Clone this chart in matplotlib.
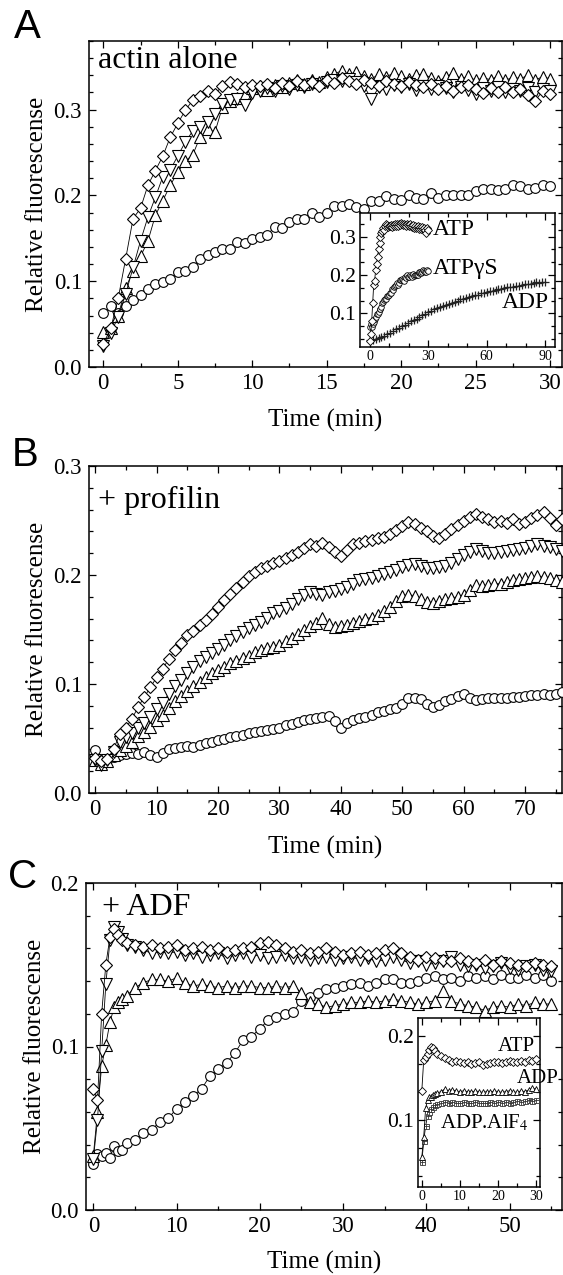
#!/usr/bin/env python3
# -*- coding: utf-8 -*-
"""Three-panel actin polymerization kinetics figure (A: actin alone, B: + profilin, C: + ADF)."""

import numpy as np
import matplotlib
matplotlib.use("Agg")
import matplotlib.pyplot as plt
from matplotlib.ticker import MultipleLocator, FormatStrFormatter, AutoMinorLocator

plt.rcParams['font.family'] = ['Liberation Serif', 'DejaVu Serif']
plt.rcParams['mathtext.fontset'] = 'stix'

# ---------------- Panel A : actin alone (0.5 min sampling) ----------------
time_a = np.arange(0, 30.5, 0.5)
a_diamond = [0.027, 0.045, 0.080, 0.126, 0.173, 0.185, 0.212, 0.229, 0.246, 0.268,
             0.284, 0.299, 0.311, 0.316, 0.322, 0.318, 0.328, 0.332, 0.330, 0.326,
             0.329, 0.327, 0.330, 0.325, 0.331, 0.328, 0.333, 0.329, 0.332, 0.328,
             0.334, 0.331, 0.337, 0.333, 0.330, 0.334, 0.331, 0.327, 0.333, 0.330,
             0.328, 0.332, 0.329, 0.326, 0.330, 0.324, 0.328, 0.322, 0.326, 0.329,
             0.324, 0.319, 0.325, 0.321, 0.326, 0.320, 0.324, 0.317, 0.310, 0.322,
             0.318]
a_tri_down = [0.025, 0.040, 0.058, 0.085, 0.116, 0.147, 0.175, 0.198, 0.222, 0.230,
              0.246, 0.262, 0.275, 0.280, 0.286, 0.295, 0.306, 0.311, 0.312, 0.305,
              0.319, 0.322, 0.325, 0.322, 0.327, 0.324, 0.329, 0.326, 0.330, 0.328,
              0.332, 0.335, 0.333, 0.336, 0.332, 0.328, 0.312, 0.326, 0.324, 0.329,
              0.326, 0.330, 0.323, 0.327, 0.324, 0.328, 0.325, 0.321, 0.326, 0.323,
              0.318, 0.325, 0.322, 0.326, 0.321, 0.324, 0.322, 0.325, 0.320, 0.324,
              0.322]
a_tri_up = [0.041, 0.045, 0.060, 0.092, 0.112, 0.129, 0.147, 0.177, 0.194, 0.212,
            0.227, 0.240, 0.247, 0.268, 0.277, 0.274, 0.303, 0.310, 0.314, 0.318,
            0.325, 0.327, 0.323, 0.329, 0.326, 0.331, 0.334, 0.330, 0.335, 0.332,
            0.338, 0.342, 0.345, 0.341, 0.344, 0.339, 0.336, 0.341, 0.338, 0.343,
            0.339, 0.336, 0.340, 0.342, 0.337, 0.333, 0.338, 0.343, 0.336, 0.339,
            0.334, 0.337, 0.335, 0.339, 0.334, 0.338, 0.336, 0.340, 0.335, 0.338,
            0.336]
a_circle = [0.063, 0.071, 0.063, 0.071, 0.078, 0.084, 0.091, 0.097, 0.099, 0.103,
            0.111, 0.112, 0.117, 0.126, 0.130, 0.134, 0.137, 0.138, 0.146, 0.145,
            0.149, 0.152, 0.154, 0.163, 0.162, 0.169, 0.172, 0.173, 0.179, 0.175,
            0.179, 0.188, 0.188, 0.190, 0.186, 0.184, 0.194, 0.193, 0.199, 0.196,
            0.195, 0.201, 0.197, 0.196, 0.203, 0.197, 0.201, 0.201, 0.201, 0.200,
            0.205, 0.207, 0.207, 0.206, 0.208, 0.212, 0.211, 0.207, 0.209, 0.212,
            0.211]

# inset A: ADP trace, 1.5 min sampling over 90 min
time_a_adp = np.arange(0, 91.5, 1.5)
a_inset_adp = [0.030, 0.029, 0.032, 0.035, 0.037, 0.042, 0.046, 0.049, 0.054, 0.058,
               0.062, 0.067, 0.070, 0.074, 0.079, 0.083, 0.086, 0.091, 0.096, 0.099,
               0.104, 0.106, 0.110, 0.114, 0.116, 0.120, 0.123, 0.125, 0.128, 0.130,
               0.133, 0.137, 0.138, 0.140, 0.143, 0.146, 0.147, 0.149, 0.152, 0.153,
               0.155, 0.158, 0.159, 0.160, 0.163, 0.164, 0.165, 0.168, 0.168, 0.170,
               0.172, 0.172, 0.174, 0.176, 0.176, 0.177, 0.179, 0.181, 0.180, 0.182,
               0.183]

# ---------------- Panel B : + profilin (1 min sampling) ----------------
time_b = np.arange(0, 77, 1)
b_diamond = [0.032, 0.029, 0.031, 0.040, 0.054, 0.060, 0.068, 0.079, 0.088, 0.097,
             0.106, 0.114, 0.123, 0.131, 0.138, 0.145, 0.149, 0.154, 0.159, 0.164,
             0.171, 0.177, 0.183, 0.188, 0.194, 0.199, 0.203, 0.206, 0.208, 0.211,
             0.213, 0.216, 0.218, 0.221, 0.225, 0.228, 0.227, 0.229, 0.226, 0.221,
             0.217, 0.223, 0.228, 0.229, 0.231, 0.232, 0.234, 0.235, 0.238, 0.241,
             0.245, 0.249, 0.247, 0.243, 0.240, 0.236, 0.234, 0.238, 0.242, 0.246,
             0.250, 0.253, 0.256, 0.253, 0.251, 0.249, 0.250, 0.248, 0.251, 0.247,
             0.249, 0.252, 0.255, 0.258, 0.252, 0.246, 0.251]
b_tri_down = [0.030, 0.026, 0.030, 0.038, 0.047, 0.051, 0.055, 0.060, 0.064, 0.070,
              0.077, 0.083, 0.091, 0.098, 0.104, 0.110, 0.116, 0.121, 0.125, 0.128,
              0.132, 0.136, 0.140, 0.144, 0.148, 0.151, 0.154, 0.157, 0.161, 0.165,
              0.167, 0.170, 0.173, 0.178, 0.182, 0.184, 0.183, 0.182, 0.184, 0.185,
              0.187, 0.189, 0.192, 0.195, 0.196, 0.197, 0.199, 0.201, 0.203, 0.205,
              0.207, 0.209, 0.210, 0.208, 0.206, 0.206, 0.207, 0.208, 0.211, 0.215,
              0.218, 0.221, 0.224, 0.222, 0.220, 0.220, 0.221, 0.222, 0.223, 0.224,
              0.225, 0.227, 0.228, 0.227, 0.226, 0.224, 0.222]
b_tri_up = [0.030, 0.027, 0.029, 0.035, 0.039, 0.043, 0.047, 0.052, 0.056, 0.061,
            0.067, 0.072, 0.078, 0.084, 0.089, 0.094, 0.098, 0.102, 0.106, 0.110,
            0.113, 0.116, 0.119, 0.121, 0.124, 0.126, 0.129, 0.131, 0.133, 0.134,
            0.136, 0.139, 0.142, 0.146, 0.150, 0.153, 0.156, 0.161, 0.155, 0.152,
            0.153, 0.154, 0.156, 0.158, 0.160, 0.161, 0.163, 0.167, 0.171, 0.176,
            0.181, 0.182, 0.181, 0.178, 0.175, 0.174, 0.176, 0.178, 0.179, 0.180,
            0.182, 0.186, 0.191, 0.190, 0.191, 0.192, 0.192, 0.194, 0.195, 0.196,
            0.197, 0.198, 0.199, 0.198, 0.197, 0.195, 0.194]
b_circle = [0.039, 0.030, 0.030, 0.033, 0.035, 0.036, 0.037, 0.036, 0.038, 0.035,
            0.033, 0.037, 0.040, 0.041, 0.042, 0.043, 0.042, 0.044, 0.046, 0.047,
            0.049, 0.050, 0.051, 0.052, 0.053, 0.055, 0.056, 0.057, 0.058, 0.059,
            0.060, 0.062, 0.063, 0.065, 0.067, 0.068, 0.069, 0.070, 0.071, 0.066,
            0.060, 0.064, 0.067, 0.069, 0.070, 0.072, 0.074, 0.075, 0.077, 0.078,
            0.082, 0.087, 0.087, 0.086, 0.082, 0.079, 0.081, 0.084, 0.086, 0.089,
            0.091, 0.087, 0.085, 0.086, 0.087, 0.087, 0.087, 0.087, 0.088, 0.088,
            0.089, 0.090, 0.090, 0.091, 0.090, 0.091, 0.093]

# ---------------- Panel C : + ADF ----------------
time_c = [0, 0.5, 1, 1.5, 2, 2.5, 3, 3.5, 4] + list(range(5, 56))
c_diamond = [0.074, 0.067, 0.120, 0.150, 0.167, 0.172, 0.168, 0.165, 0.163,
             0.162, 0.161, 0.162, 0.160, 0.161, 0.162, 0.159, 0.160, 0.161, 0.159,
             0.160, 0.158, 0.159, 0.160, 0.161, 0.163, 0.164, 0.162, 0.160, 0.158,
             0.159, 0.157, 0.158, 0.160, 0.158, 0.156, 0.157, 0.158, 0.156, 0.157,
             0.159, 0.160, 0.157, 0.155, 0.153, 0.155, 0.154, 0.153, 0.152, 0.154,
             0.152, 0.151, 0.153, 0.150, 0.152, 0.151, 0.150, 0.149, 0.151, 0.150,
             0.149]
c_tri_down = [0.031, 0.055, 0.097, 0.138, 0.165, 0.173, 0.170, 0.166, 0.162,
              0.161, 0.159, 0.157, 0.158, 0.157, 0.158, 0.156, 0.157, 0.155, 0.156,
              0.157, 0.154, 0.156, 0.157, 0.155, 0.156, 0.154, 0.155, 0.156, 0.154,
              0.155, 0.153, 0.154, 0.155, 0.153, 0.154, 0.155, 0.153, 0.154, 0.152,
              0.153, 0.155, 0.153, 0.151, 0.152, 0.150, 0.151, 0.152, 0.155, 0.150,
              0.149, 0.150, 0.148, 0.149, 0.151, 0.148, 0.147, 0.149, 0.150, 0.147,
              0.146]
c_tri_up = [0.033, 0.060, 0.088, 0.101, 0.115, 0.124, 0.127, 0.129, 0.131,
            0.136, 0.139, 0.141, 0.141, 0.140, 0.142, 0.139, 0.137, 0.138, 0.137,
            0.136, 0.137, 0.136, 0.137, 0.137, 0.136, 0.136, 0.137, 0.136, 0.137,
            0.133, 0.127, 0.126, 0.124, 0.125, 0.126, 0.127, 0.127, 0.128, 0.127,
            0.128, 0.129, 0.128, 0.127, 0.126, 0.127, 0.128, 0.134, 0.128, 0.126,
            0.125, 0.124, 0.122, 0.124, 0.125, 0.124, 0.126, 0.125, 0.127, 0.126,
            0.126]
c_circle = [0.028, 0.034, 0.033, 0.035, 0.032, 0.039, 0.036, 0.037, 0.041,
            0.043, 0.047, 0.049, 0.054, 0.056, 0.062, 0.066, 0.070, 0.074, 0.082,
            0.086, 0.090, 0.096, 0.104, 0.106, 0.111, 0.116, 0.118, 0.120, 0.121,
            0.128, 0.130, 0.133, 0.135, 0.136, 0.137, 0.138, 0.139, 0.137, 0.139,
            0.141, 0.141, 0.139, 0.139, 0.140, 0.142, 0.143, 0.141, 0.142, 0.140,
            0.143, 0.142, 0.143, 0.141, 0.144, 0.142, 0.142, 0.144, 0.142, 0.144,
            0.140]

# inset C: ATP / ADP / ADP.AlF4, first 30 min
time_c_inset = [0, 0.5, 1, 1.5, 2, 2.5, 3, 3.5, 4] + list(range(5, 31))
c_inset_atp = [0.135, 0.172, 0.175, 0.179, 0.184, 0.187, 0.186, 0.182, 0.179,
               0.176, 0.174, 0.172, 0.170, 0.171, 0.169, 0.168, 0.170, 0.167, 0.168,
               0.169, 0.166, 0.167, 0.168, 0.169, 0.170, 0.168, 0.169, 0.171, 0.170,
               0.169, 0.171, 0.170, 0.172, 0.171, 0.173]
c_inset_adp = [0.056, 0.080, 0.114, 0.124, 0.127, 0.128, 0.130, 0.131, 0.132,
               0.134, 0.137, 0.135, 0.136, 0.135, 0.134, 0.135, 0.134, 0.133, 0.135,
               0.134, 0.133, 0.134, 0.133, 0.135, 0.134, 0.133, 0.134, 0.135, 0.134,
               0.133, 0.135, 0.134, 0.136, 0.138, 0.137]
c_inset_alf = [0.050, 0.075, 0.093, 0.105, 0.110, 0.113, 0.116, 0.118, 0.119,
               0.121, 0.122, 0.121, 0.122, 0.120, 0.121, 0.122, 0.120, 0.121, 0.122,
               0.121, 0.120, 0.121, 0.122, 0.121, 0.122, 0.121, 0.122, 0.121, 0.122,
               0.123, 0.122, 0.123, 0.124, 0.123, 0.124]

W, H = 563, 1275


def fig_rect(left, right, top, bottom):
    """Convert pixel box into figure fraction rect."""
    return [left / W, 1 - bottom / H, (right - left) / W, (bottom - top) / H]


def style_axes(ax, xmaj, xmin, ymaj, ymin, size, xsize=None):
    ax.xaxis.set_major_locator(MultipleLocator(xmaj))
    ax.xaxis.set_minor_locator(MultipleLocator(xmin))
    ax.yaxis.set_major_locator(MultipleLocator(ymaj))
    if isinstance(ymin, int):
        ax.yaxis.set_minor_locator(AutoMinorLocator(ymin))
    else:
        ax.yaxis.set_minor_locator(MultipleLocator(ymin))
    ax.yaxis.set_major_formatter(FormatStrFormatter('%.1f'))
    ax.tick_params(which='both', direction='in', top=True, right=True, width=0.9)
    ax.tick_params(which='major', length=5)
    ax.tick_params(which='minor', length=3)
    ax.tick_params(axis='y', labelsize=size, pad=5)
    ax.tick_params(axis='x', labelsize=xsize or size, pad=4)
    for s in ax.spines.values():
        s.set_linewidth(1.1)


def series(ax, t, y, marker, ms, mew=0.8, color='black'):
    ax.plot(t, y, marker=marker, ms=ms, mfc='white', mec=color, mew=mew,
            color='black', lw=0.6, zorder=3)


def labels(ax, ylab_x, xlab_y):
    ax.set_ylabel('Relative fluorescense', fontsize=18)
    ax.set_xlabel('Time (min)', fontsize=18)
    ax.yaxis.set_label_coords(ylab_x, 0.5)
    ax.yaxis.label.set_verticalalignment('center')
    ax.xaxis.set_label_coords(0.5, xlab_y)
    ax.xaxis.label.set_verticalalignment('center')


def main():
    fig = plt.figure(figsize=(W / 100, H / 100), dpi=100)

    # ---- Panel A ----
    ax_a = fig.add_axes(fig_rect(89, 562, 41, 367))
    series(ax_a, time_a, a_circle, 'o', 7.0)
    series(ax_a, time_a, a_tri_up, '^', 8.3)
    series(ax_a, time_a, a_tri_down, 'v', 8.3)
    series(ax_a, time_a, a_diamond, 'D', 5.7)
    ax_a.set_xlim(-0.96, 30.8)
    ax_a.set_ylim(0, 0.38)
    style_axes(ax_a, 5, 2.5, 0.1, 0.02, 16.5)
    labels(ax_a, -0.11, -0.163)
    ax_a.text(0.02, 0.94, 'actin alone', transform=ax_a.transAxes,
              fontsize=23, va='center', ha='left')

    ins_a = fig.add_axes(fig_rect(360, 555, 213, 347))
    ins_a.plot(time_a_adp, a_inset_adp, ls='none', marker='+', ms=5.5, mew=0.9,
               color='#222222', zorder=2)
    series(ins_a, time_a, a_circle, 'o', 4.0, mew=0.6)
    series(ins_a, time_a, a_diamond, 'D', 3.6, mew=0.6)
    ins_a.set_xlim(-5, 95)
    ins_a.set_ylim(0.012, 0.362)
    style_axes(ins_a, 30, 10, 0.1, 3, 15.5, xsize=10)
    ins_a.tick_params(axis='x', pad=2)
    ins_a.tick_params(axis='y', pad=3)
    ins_a.text(32.5, 0.320, 'ATP', fontsize=17, va='center', ha='left')
    ins_a.text(32.5, 0.218, 'ATP\u03b3S', fontsize=17, va='center', ha='left')
    ins_a.text(92, 0.128, 'ADP', fontsize=17, va='center', ha='right')

    # ---- Panel B ----
    ax_b = fig.add_axes(fig_rect(89, 562, 466, 793))
    series(ax_b, time_b, b_circle, 'o', 7.0)
    series(ax_b, time_b, b_tri_up, '^', 8.3)
    series(ax_b, time_b, b_tri_down, 'v', 8.3)
    series(ax_b, time_b, b_diamond, 'D', 5.7)
    ax_b.set_xlim(-1, 76)
    ax_b.set_ylim(0, 0.3)
    style_axes(ax_b, 10, 5, 0.1, 0.02, 16.5)
    labels(ax_b, -0.11, -0.165)
    ax_b.text(0.02, 0.895, '+ profilin', transform=ax_b.transAxes,
              fontsize=23, va='center', ha='left')

    # ---- Panel C ----
    ax_c = fig.add_axes(fig_rect(86, 562, 883, 1210))
    series(ax_c, time_c, c_circle, 'o', 7.0)
    series(ax_c, time_c, c_tri_up, '^', 8.3)
    series(ax_c, time_c, c_tri_down, 'v', 8.3)
    series(ax_c, time_c, c_diamond, 'D', 5.7)
    ax_c.set_xlim(-0.88, 56.3)
    ax_c.set_ylim(0, 0.2)
    style_axes(ax_c, 10, 5, 0.1, 0.02, 16.5)
    labels(ax_c, -0.107, -0.16)
    ax_c.text(0.034, 0.924, '+ ADF', transform=ax_c.transAxes,
              fontsize=23, va='center', ha='left')

    ins_c = fig.add_axes(fig_rect(418, 540, 1018, 1187))
    ins_c.patch.set_facecolor('white')
    series(ins_c, time_c_inset, c_inset_alf, 's', 3.6, mew=0.6, color='#333333')
    ins_c.plot(time_c_inset, c_inset_alf, ls='none', marker='+', ms=3.6, mew=0.6,
               color='#333333', zorder=4)
    series(ins_c, time_c_inset, c_inset_adp, '^', 4.8, mew=0.6)
    series(ins_c, time_c_inset, c_inset_atp, 'D', 3.9, mew=0.6)
    ins_c.set_xlim(-1, 31)
    ins_c.set_ylim(0.02, 0.222)
    style_axes(ins_c, 10, 5, 0.1, 3, 15.5, xsize=10)
    ins_c.tick_params(axis='x', pad=2)
    ins_c.tick_params(axis='y', pad=3)
    ins_c.text(29.7, 0.188, 'ATP', fontsize=15, va='center', ha='right')
    ins_c.text(35.8, 0.150, 'ADP', fontsize=15, va='center', ha='right',
               clip_on=False, zorder=6)
    ins_c.text(4.7, 0.097, 'ADP.AlF$_4$', fontsize=15, va='center', ha='left')

    # ---- Panel letters ----
    for letter, x, y in [('A', 14, 8), ('B', 12, 436), ('C', 8, 858)]:
        fig.text(x / W, 1 - y / H, letter, fontsize=29, family='Liberation Sans',
                 va='top', ha='left')

    fig.savefig('out.png', dpi=100)


if __name__ == '__main__':
    main()
